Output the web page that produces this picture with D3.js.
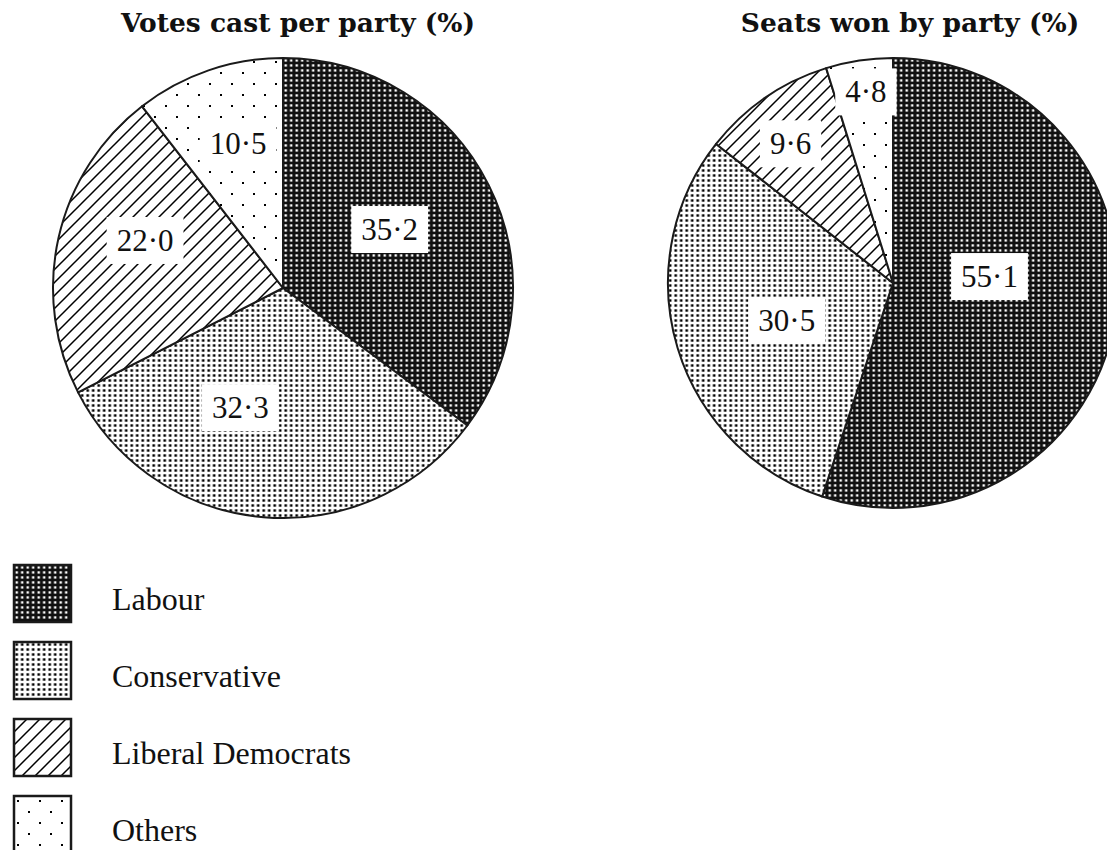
<!DOCTYPE html>
<html>
<head>
<meta charset="utf-8">
<script src="https://cdn.jsdelivr.net/npm/d3@7"></script>
<style>
  html, body { margin: 0; padding: 0; background: #fff; }
  svg { display: block; }
</style>
</head>
<body>
<svg id="chart" width="1107" height="850"></svg>
<script>
// ---------- data ----------
const parties = ["Labour", "Conservative", "Liberal Democrats", "Others"];
const votesPct = [35.2, 32.3, 22.0, 10.5];
const seatsPct = [55.1, 30.5, 9.6, 4.8];
const chartTitles = ["Votes cast per party (%)", "Seats won by party (%)"];

// ---------- layout (not data) ----------
const W = 1107, H = 850;
const pies = [
  { values: votesPct, title: chartTitles[0], cx: 283, cy: 288, r: 230, titleX: 298,
    labelFrac: [0.53, 0.55, 0.635, 0.66], labelShift: [-2.3, 14.8, 6.6, 1.7] },
  { values: seatsPct, title: chartTitles[1], cx: 893, cy: 283, r: 225, titleX: 910,
    labelFrac: [0.43, 0.50, 0.77, 0.86], labelShift: [-13.3, -2.4, -1.7, 0.6] }
];
const patternIds = ["pLab", "pCon", "pLib", "pOth"];

const svg = d3.select("#chart");
const defs = svg.append("defs");

// Labour: black with white squares
let p = defs.append("pattern").attr("id", "pLab").attr("patternUnits", "userSpaceOnUse")
  .attr("width", 5.5).attr("height", 5);
p.append("rect").attr("width", 5.5).attr("height", 5).attr("fill", "#111");
p.append("rect").attr("x", 1.5).attr("y", 1.3).attr("width", 2.4).attr("height", 2.3).attr("fill", "#fff");

// Conservative: white with black squares
p = defs.append("pattern").attr("id", "pCon").attr("patternUnits", "userSpaceOnUse")
  .attr("width", 5.5).attr("height", 5);
p.append("rect").attr("width", 5.5).attr("height", 5).attr("fill", "#fff");
p.append("rect").attr("x", 1.4).attr("y", 1.3).attr("width", 2.6).attr("height", 2.4).attr("fill", "#000");

// Liberal Democrats: diagonal hatch
const hs = 13;
p = defs.append("pattern").attr("id", "pLib").attr("patternUnits", "userSpaceOnUse")
  .attr("width", hs).attr("height", hs);
p.append("rect").attr("width", hs).attr("height", hs).attr("fill", "#fff");
p.append("path").attr("d", `M-3,3 L3,-3 M0,${hs} L${hs},0 M${hs - 3},${hs + 3} L${hs + 3},${hs - 3}`)
  .attr("stroke", "#000").attr("stroke-width", 1.5);

// Others: sparse staggered dots
p = defs.append("pattern").attr("id", "pOth").attr("patternUnits", "userSpaceOnUse")
  .attr("width", 22).attr("height", 22);
p.append("rect").attr("width", 22).attr("height", 22).attr("fill", "#fff");
p.append("rect").attr("x", 3).attr("y", 4).attr("width", 2).attr("height", 2).attr("fill", "#000");
p.append("rect").attr("x", 14).attr("y", 15).attr("width", 2).attr("height", 2).attr("fill", "#000");

const fmt = d3.formatLocale({ decimal: "·", thousands: ",", grouping: [3], currency: ["", ""] }).format(".1f");

const pieGen = d3.pie().sort(null).value(d => d);

pies.forEach(cfg => {
  const g = svg.append("g").attr("transform", `translate(${cfg.cx},${cfg.cy})`);
  const arcs = pieGen(cfg.values);
  const arcGen = d3.arc().innerRadius(0).outerRadius(cfg.r);

  g.selectAll("path.slice").data(arcs).join("path")
    .attr("class", "slice")
    .attr("d", arcGen)
    .attr("fill", (d, i) => `url(#${patternIds[i]})`)
    .attr("stroke", "#1a1a1a")
    .attr("stroke-width", 2)
    .attr("stroke-linejoin", "round");

  const labels = g.selectAll("g.lab").data(arcs).join("g").attr("class", "lab")
    .attr("transform", (d, i) => {
      const a = (d.startAngle + d.endAngle) / 2 + cfg.labelShift[i] * Math.PI / 180;
      const rho = cfg.labelFrac[i] * cfg.r;
      const c = d3.arc().innerRadius(rho).outerRadius(rho).startAngle(a).endAngle(a).centroid();
      return `translate(${c[0]},${c[1]})`;
    });
  labels.each(function (d) {
    const sel = d3.select(this);
    const box = sel.append("rect").attr("fill", "#fff");
    const t = sel.append("text")
      .attr("text-anchor", "middle")
      .attr("y", 11)
      .attr("font-family", "'Liberation Serif', 'Times New Roman', serif")
      .attr("font-size", 31)
      .attr("fill", "#111")
      .text(fmt(d.data));
    const w = t.node().getComputedTextLength() + 20;
    box.attr("x", -w / 2).attr("y", -23).attr("width", w).attr("height", 47);
  });

  svg.append("text")
    .attr("x", cfg.titleX).attr("y", 32)
    .attr("text-anchor", "middle")
    .attr("font-family", "'DejaVu Serif', serif")
    .attr("font-weight", "bold")
    .attr("font-size", 26.5)
    .attr("fill", "#111")
    .text(cfg.title);
});

// legend
const legend = svg.append("g").attr("transform", "translate(14,565)");
const li = legend.selectAll("g").data(parties).join("g")
  .attr("transform", (d, i) => `translate(0,${i * 77})`);
li.append("rect")
  .attr("x", 0).attr("y", 0).attr("width", 57).attr("height", 57)
  .attr("fill", (d, i) => `url(#${patternIds[i]})`)
  .attr("stroke", "#1a1a1a").attr("stroke-width", 2.5);
li.append("text")
  .attr("x", 98).attr("y", 45)
  .attr("font-family", "'Liberation Serif', 'Times New Roman', serif")
  .attr("font-size", 32)
  .attr("fill", "#111")
  .text(d => d);
</script>
</body>
</html>
